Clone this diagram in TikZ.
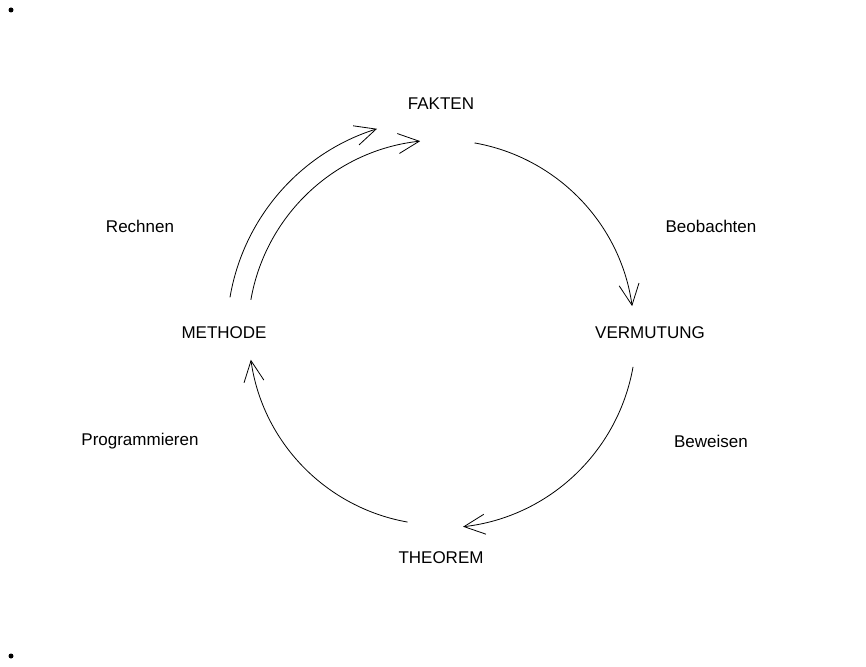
\documentclass[tikz,border=0pt]{standalone}
\usepackage{fontspec}
\setmainfont{Liberation Sans}
\usetikzlibrary{arrows.meta}
\begin{document}
\begin{tikzpicture}[x=1pt,y=1pt,
  lbl/.style={font=\fontsize{17}{20}\selectfont, inner sep=0pt},
  conn/.style={line width=0.8pt, -{Straight Barb[length=21pt,width=20pt]}},
  dotp/.style={fill=black, circle, inner sep=0pt, minimum size=5pt}]
\useasboundingbox (0,0) rectangle (866,666);
\node[dotp] (d1) at (11,656) {};
\node[dotp] (d2) at (11,10) {};
\coordinate (C) at (441,333);
\node[lbl] (fak) at (441,562) {FAKTEN};
\node[lbl] (ver) at (650,333) {VERMUTUNG};
\node[lbl] (the) at (441,108) {THEOREM};
\node[lbl] (met) at (224,333) {METHODE};
\node[lbl] (beo) at (711,440) {Beobachten};
\node[lbl] (rec) at (140,440) {Rechnen};
\node[lbl] (pro) at (140,225) {Programmieren};
\node[lbl] (bew) at (711,225) {Beweisen};
\coordinate (s1) at ([shift={(80:193)}]C);
\coordinate (s2) at ([shift={(-10:195)}]C);
\coordinate (s3) at ([shift={(260:192)}]C);
\coordinate (s4) at ([shift={(170.1:193)}]C);
\coordinate (s5) at ([shift={(170.4:214)}]C);
\draw[conn] (s1) arc[start angle=80, end angle=8, radius=193];
\draw[conn] (s2) arc[start angle=-10, end angle=-83.5, radius=195];
\draw[conn] (s3) arc[start angle=260, end angle=188, radius=192];
\draw[conn] (s4) arc[start angle=170.1, end angle=96.2, radius=193];
\draw[conn] (s5) arc[start angle=170.4, end angle=107.4, radius=214];
\end{tikzpicture}
\end{document}
